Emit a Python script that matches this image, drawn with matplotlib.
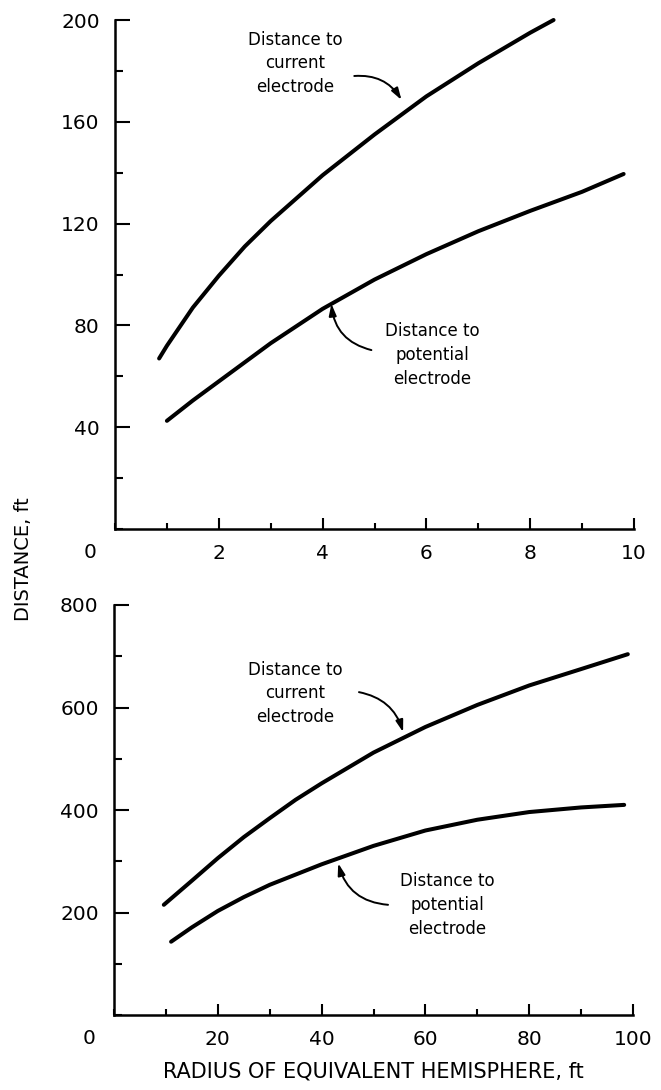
import matplotlib
matplotlib.use("Agg")
import matplotlib.pyplot as plt
from matplotlib.ticker import MultipleLocator

# ---- data ----
top_current_x = [0.85, 1.0, 1.5, 2.0, 2.5, 3.0, 4.0, 5.0, 6.0, 7.0, 8.0, 8.45]
top_current_y = [67, 72, 87, 99.5, 111, 121, 139, 155, 170, 183, 195, 200]
top_potential_x = [1.0, 1.5, 2.0, 3.0, 4.0, 5.0, 6.0, 7.0, 8.0, 9.0, 9.8]
top_potential_y = [42.5, 50.5, 58, 73, 86.5, 98, 108, 117, 125, 132.5, 139.5]

bot_current_x = [9.6, 15, 20, 25, 30, 35, 40, 50, 60, 70, 80, 90, 99]
bot_current_y = [215, 262, 306, 347, 384, 420, 452, 512, 562, 605, 643, 675, 704]
bot_potential_x = [11, 15, 20, 25, 30, 40, 50, 60, 70, 80, 90, 98.3]
bot_potential_y = [143, 171, 203, 230, 254, 294, 330, 360, 381, 396, 405, 410]

top_xticks = [2, 4, 6, 8, 10]
top_yticks = [40, 80, 120, 160, 200]
bot_xticks = [20, 40, 60, 80, 100]
bot_yticks = [200, 400, 600, 800]

label_current = "Distance to\ncurrent\nelectrode"
label_potential = "Distance to\npotential\nelectrode"
xlabel = "RADIUS OF EQUIVALENT HEMISPHERE, ft"
ylabel = "DISTANCE, ft"

plt.rcParams['font.family'] = ['DejaVu Sans']

W, H = 661, 1090
fig = plt.figure(figsize=(W / 100, H / 100), dpi=100)

def axes_px(x0, y0, x1, y1):
    return fig.add_axes([x0 / W, 1 - y1 / H, (x1 - x0) / W, (y1 - y0) / H])

ax1 = axes_px(115, 20, 634, 529)
ax2 = axes_px(114, 605, 633, 1015)

LW = 2.9
TICKFS = 14.5
ANNFS = 12

def style(ax, xmax, ymax, xmin, ymin, xt, yt):
    ax.set_xlim(0, xmax)
    ax.set_ylim(0, ymax)
    for s in ['top', 'right']:
        ax.spines[s].set_visible(False)
    for s in ['left', 'bottom']:
        ax.spines[s].set_linewidth(1.8)
    ax.set_xticks(xt)
    ax.set_yticks(yt)
    ax.xaxis.set_minor_locator(MultipleLocator(xmin))
    ax.yaxis.set_minor_locator(MultipleLocator(ymin))
    ax.tick_params(axis='x', which='major', direction='in', length=8, width=1.5,
                   pad=11, labelsize=TICKFS)
    ax.tick_params(axis='x', which='minor', direction='in', length=4.5, width=1.5)
    ax.tick_params(axis='y', which='major', direction='in', length=10.5, width=1.5,
                   pad=11, labelsize=TICKFS)
    ax.tick_params(axis='y', which='minor', direction='in', length=6, width=1.5)
    ax.patch.set_visible(False)
    ax.annotate("0", xy=(0, 0), xycoords='data', xytext=(-18, -17),
                textcoords='offset points', ha='center', va='center',
                fontsize=TICKFS)

style(ax1, 10, 200, 1, 20, top_xticks, top_yticks)
style(ax2, 100, 800, 10, 100, bot_xticks, bot_yticks)

for ax, cx, cy, px, py in [(ax1, top_current_x, top_current_y, top_potential_x, top_potential_y),
                           (ax2, bot_current_x, bot_current_y, bot_potential_x, bot_potential_y)]:
    ax.plot(cx, cy, color='black', lw=LW, solid_capstyle='round', solid_joinstyle='round',
            clip_on=False)
    ax.plot(px, py, color='black', lw=LW, solid_capstyle='round', solid_joinstyle='round',
            clip_on=False)

arrow = dict(arrowstyle='-|>,head_length=0.7,head_width=0.22', color='black', lw=1.4,
             shrinkA=0, shrinkB=0)

# top panel annotations
ax1.text(3.47, 183, label_current, ha='center', va='center', fontsize=ANNFS,
         linespacing=1.4)
ax1.annotate("", xy=(5.52, 168.6), xytext=(4.61, 178),
             arrowprops=dict(arrow, connectionstyle='arc3,rad=-0.3'))
ax1.text(6.12, 68.4, label_potential, ha='center', va='center', fontsize=ANNFS,
         linespacing=1.4)
ax1.annotate("", xy=(4.17, 88.5), xytext=(4.94, 70.3),
             arrowprops=dict(arrow, connectionstyle='arc3,rad=-0.35'))

# bottom panel annotations
ax2.text(34.9, 628, label_current, ha='center', va='center', fontsize=ANNFS,
         linespacing=1.4)
ax2.annotate("", xy=(55.7, 552), xytext=(47.2, 630),
             arrowprops=dict(arrow, connectionstyle='arc3,rad=-0.3'))
ax2.text(64.2, 214.6, label_potential, ha='center', va='center', fontsize=ANNFS,
         linespacing=1.4)
ax2.annotate("", xy=(43.2, 296), xytext=(52.8, 215),
             arrowprops=dict(arrow, connectionstyle='arc3,rad=-0.35'))

fig.text(373 / W, 1 - 1072 / H, xlabel, ha='center', va='center', fontsize=15)
fig.text(24 / W, 1 - 559 / H, ylabel, ha='center', va='center', fontsize=14,
         rotation=90)

fig.savefig("out.png", dpi=100)
